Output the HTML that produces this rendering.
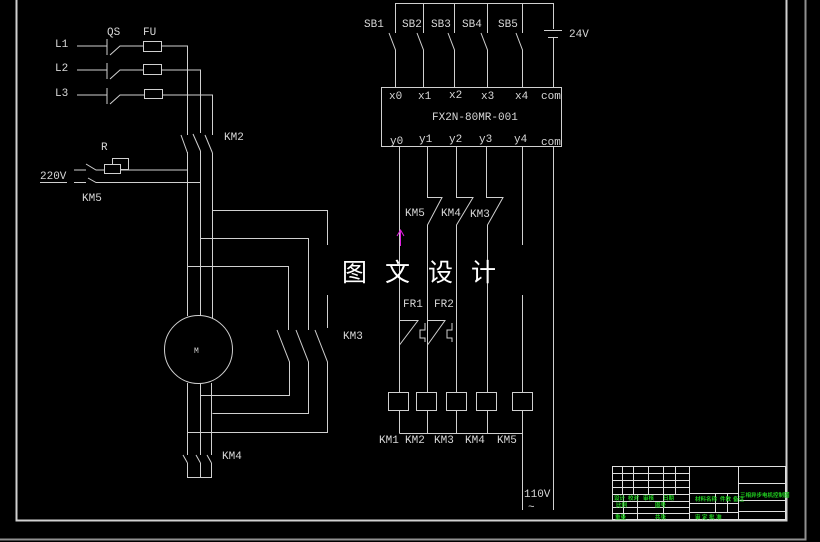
<!DOCTYPE html>
<html><head><meta charset="utf-8"><style>
html,body{margin:0;padding:0;background:#000;}
svg{display:block}
text{font-family:"Liberation Mono",monospace;font-size:11px;fill:#d8d8d8}
text.g{font-family:"Liberation Sans","Noto Sans CJK SC",sans-serif;font-size:11px;fill:#20d020;font-weight:bold}
</style></head><body>
<svg width="820" height="542" viewBox="0 0 820 542" xmlns="http://www.w3.org/2000/svg">
<rect width="820" height="542" fill="#000"/>
<g stroke="#d0d0d0" stroke-width="1" fill="none">
<path d="M16.5,0V520.5H786.5V0" stroke-width="2"/>
<path d="M0,539.5H805.5V0" stroke="#909090" stroke-width="2"/>
<path d="M77,46H107M107,39V55M110,55L120,46H143M162,46H187.5V135"/>
<path d="M77,70H107M107,63V79M110,79L120,70H143M162,70H200.5V133"/>
<path d="M77,95H107M107,88V104M110,104L120,95H144M162,95H212.5V135"/>
<rect x="143.5" y="41.5" width="18" height="10"/>
<rect x="143.5" y="64.5" width="18" height="10"/>
<rect x="144.5" y="89.5" width="18" height="9"/>
<path d="M181,135L187.5,153M193,134L200.5,151M205,135L212.5,153"/>
<path d="M74,170H86M86,164L96,170H105M121,170H187.5"/>
<rect x="104.5" y="164.5" width="16" height="9"/>
<path d="M112.5,165V158.5H128.5V169.5H121"/>
<path d="M40,182.5H67M74,182.5H86M88,178L96,182.5H200.5"/>
<path d="M187.5,152V316M200.5,151V316M212.5,153V318"/>
<path d="M212.5,210.5H327.5V245M200.5,238.5H308.5V330M187.5,266.5H288.5V330M327.5,295V328"/>
<path d="M277,330L289.5,362V395.5H200.5M296,330L308.5,362V413.5H212.5M315,330L327.5,362V432.5H187.5"/>
<circle cx="198.5" cy="349.5" r="34"/>
<path d="M187.5,383V455M200.5,383V455M211.5,383V455"/>
<path d="M183,455L187.5,463M196,455L200.5,463M207,455L211.5,463"/>
<path d="M187.5,463V477.5H211.5V463M200.5,463V477.5"/>
<path d="M395.5,3.5H553.5V29"/>
<path d="M395.5,3V33M423.5,3V33M454.5,3V33M487.5,3V33M522.5,3V33"/>
<path d="M389,33L395.5,50V87M417,33L423.5,50V87M448,33L454.5,50V87M481,33L487.5,50V87M516,33L522.5,50V87"/>
<path d="M544,30.5H562M548,37.5H558M553.5,37V87"/>
<rect x="381.5" y="87.5" width="180" height="59"/>
<path d="M399.5,147V392"/>
<path d="M427.5,147V197.5H442L427.5,225V392"/>
<path d="M456.5,147V197.5H473L456.5,225V392"/>
<path d="M486.5,147V197.5H503L487.5,225V392"/>
<path d="M522.5,147V245M553.5,147V510"/>
<path d="M399.5,295V320.5H418L399.5,345V392"/>
<path d="M427.5,295V320.5H445L427.5,345V392"/>
<path d="M425,323V330H420V338H425V342M452,323V330H447V338H452V342"/>
<path d="M456.5,295V392M487.5,295V392M522.5,295V392"/>
<rect x="388.5" y="392.5" width="20" height="18"/>
<rect x="416.5" y="392.5" width="20" height="18"/>
<rect x="446.5" y="392.5" width="20" height="18"/>
<rect x="476.5" y="392.5" width="20" height="18"/>
<rect x="512.5" y="392.5" width="20" height="18"/>
<path d="M399.5,410V433.5M427.5,410V433.5M456.5,410V433.5M487.5,410V433.5M399.5,433.5H522.5M522.5,410V510"/>
<g stroke="#e0e0e0">
<rect x="612.5" y="466.5" width="173" height="53"/>
<path d="M612,473.5H689M612,480.5H689M612,487.5H689M612,494.5H689M612,501.5H689M612,507.5H689M612,513.5H689"/>
<path d="M622.5,466V494M633.5,466V494M648.5,466V494M663.5,466V494M675.5,466V494M689.5,466V520M637.5,494V520M663.5,494V520M623.5,494V520"/>
<path d="M689,493.5H738M689,503.5H738M689,512.5H738M715.5,493V512M727.5,493V512M738.5,466V520"/>
<path d="M738,483.5H786M738,500.5H786M738,511.5H786"/>
</g>
</g>
<path d="M400.5,246V231M397,236L400.5,230L404,236" stroke="#e020e0" fill="none"/>
<g>
<text x="55" y="47">L1</text><text x="55" y="71">L2</text><text x="55" y="96">L3</text>
<text x="107" y="35">QS</text><text x="143" y="35">FU</text>
<text x="224" y="140">KM2</text>
<text x="101" y="150">R</text>
<text x="40" y="179">220V</text>
<text x="82" y="201">KM5</text>
<text x="343" y="339">KM3</text>
<text x="222" y="459">KM4</text>
<text x="194" y="353" style="font-size:8px">M</text>
<text x="364" y="27">SB1</text><text x="402" y="27">SB2</text><text x="431" y="27">SB3</text><text x="462" y="27">SB4</text><text x="498" y="27">SB5</text>
<text x="569" y="37">24V</text>
<text x="389" y="99">x0</text><text x="418" y="99">x1</text><text x="449" y="98">x2</text><text x="481" y="99">x3</text><text x="515" y="99">x4</text><text x="541" y="99">com</text>
<text x="432" y="120">FX2N-80MR-001</text>
<text x="390" y="144">y0</text><text x="419" y="142">y1</text><text x="449" y="142">y2</text><text x="479" y="142">y3</text><text x="514" y="142">y4</text><text x="541" y="145">com</text>
<text x="405" y="216">KM5</text><text x="441" y="216">KM4</text><text x="470" y="217">KM3</text>
<text x="403" y="307">FR1</text><text x="434" y="307">FR2</text>
<text x="379" y="443">KM1</text><text x="405" y="443">KM2</text><text x="434" y="443">KM3</text><text x="465" y="443">KM4</text><text x="497" y="443">KM5</text>
<text x="524" y="497">110V</text><text x="528" y="510">~</text>
<text x="342" y="281" style="font-family:'Liberation Sans','Noto Sans CJK SC',sans-serif;font-size:25px;fill:#fff;letter-spacing:18px">图文设计</text>
</g>
<g transform="scale(0.5)">
<text class="g" x="1228" y="1000">设计</text><text class="g" x="1256" y="1000">校对</text><text class="g" x="1286" y="1000">审核</text><text class="g" x="1326" y="1000">日期</text>
<text class="g" x="1232" y="1014">比例</text><text class="g" x="1310" y="1014">图号</text>
<text class="g" x="1230" y="1038">重量</text><text class="g" x="1310" y="1038">共张</text>
<text class="g" x="1390" y="1002">材料名称</text><text class="g" x="1440" y="1002">件数</text><text class="g" x="1466" y="1002">备注</text>
<text class="g" x="1480" y="994">三相异步电机控制图</text>
<text class="g" x="1390" y="1038">审 定 批 准</text>
</g>
</svg>
</body></html>
